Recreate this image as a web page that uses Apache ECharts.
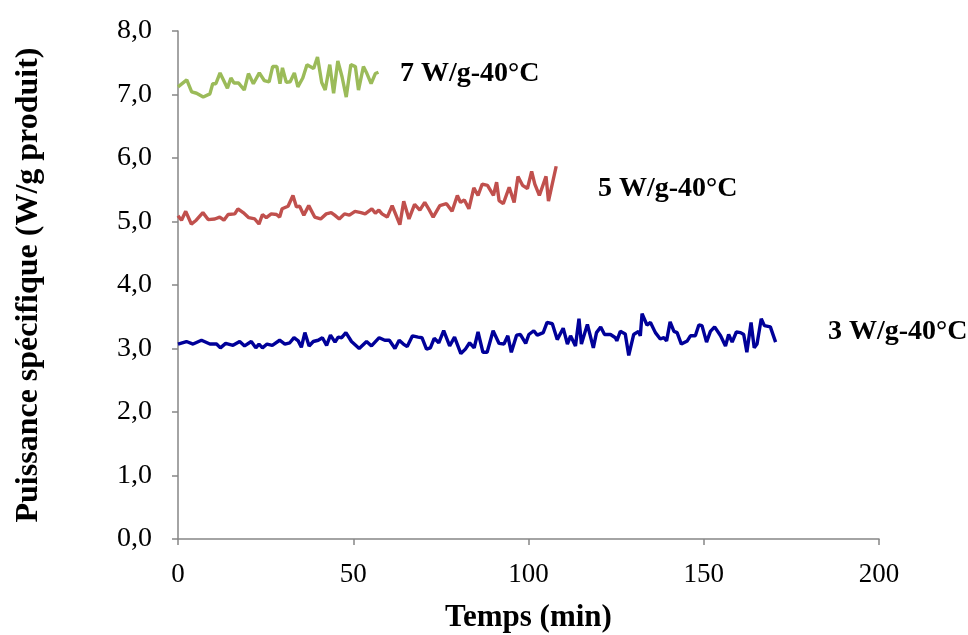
<!DOCTYPE html>
<html><head><meta charset="utf-8">
<script src="https://cdn.jsdelivr.net/npm/echarts@6/dist/echarts.min.js"></script>
<style>html,body{margin:0;padding:0;background:#fff}#c{width:968px;height:635px}</style>
</head><body><div id="c"></div>
<script>
const greenT = [0,2.5,3.9,5.3,7.2,9.1,9.9,10.8,12,14.1,15.1,16,17.3,18.9,20.1,21.5,23.2,24.6,26,27,28.2,29.1,29.8,30.9,32,33.2,34.2,35.6,36.8,38.7,39.8,41,42,43.3,44.4,45.6,46.8,48,49.3,50.6,51.5,52.9,53.9,55.1,56.3,57.2];
const greenV = [7.12,7.23,7.04,7.02,6.96,7.01,7.17,7.17,7.34,7.10,7.26,7.18,7.18,7.07,7.33,7.17,7.34,7.22,7.20,7.44,7.44,7.17,7.42,7.19,7.20,7.34,7.12,7.26,7.47,7.41,7.59,7.19,7.07,7.47,7.02,7.53,7.28,6.96,7.47,7.44,7.07,7.44,7.33,7.17,7.33,7.35];

const redT = [0,1,2.2,3.8,5.2,7.1,8.6,10.5,11.9,13.1,14.3,16.2,17.1,18.6,20.2,21.9,23.1,24.1,25.2,26.6,28.1,29,29.7,31.4,32.8,33.8,34.7,35.9,37.3,39,40.7,42.3,43.7,44.7,46,47.5,48.9,50.5,52.2,53.4,55.3,56.3,57.3,58.2,59.7,61.1,63.3,64.4,65.9,67.5,69,70.4,71.6,72.8,74.7,76.6,78.2,79.7,80.6,81.7,83,84.4,85.6,86.8,88.3,90,90.9,91.6,92.8,94.5,95.9,97,98.3,99.7,100.9,101.8,103.1,105,105.7,107.9];
const redV = [5.09,5.02,5.16,4.96,5.02,5.14,5.03,5.04,5.07,5.02,5.11,5.12,5.20,5.14,5.06,5.04,4.96,5.11,5.06,5.12,5.11,5.07,5.20,5.24,5.41,5.23,5.24,5.10,5.25,5.07,5.04,5.12,5.14,5.10,5.04,5.12,5.10,5.16,5.14,5.12,5.20,5.13,5.18,5.12,5.07,5.25,4.95,5.32,5.04,5.27,5.18,5.30,5.19,5.07,5.25,5.28,5.16,5.41,5.30,5.34,5.20,5.53,5.41,5.59,5.57,5.41,5.62,5.33,5.28,5.54,5.30,5.71,5.57,5.52,5.79,5.59,5.41,5.71,5.32,5.87];

const blueT = [0,2.4,4.3,6.7,9.1,11,12.1,13.6,15.7,17.6,19,20.9,22.2,23.1,24.1,25.4,26.9,29,30.5,31.9,33.1,34.3,35.2,36.2,37.4,38.6,40,41.2,42.4,43.5,44.8,45.7,46.7,47.9,49.5,51.7,53.8,55.2,57.4,59,60.3,61.9,63.1,64.3,65.4,66.9,68.5,69.6,70.9,72,73.1,74.4,75.8,77.5,78.9,80.7,82,83.2,84.5,85.6,87,88.2,89.9,91.6,93,94.1,95.1,96.6,97.7,99.2,100.1,101.5,102.5,104.2,105.3,106.8,108.2,109.9,111.1,112,113.4,114.4,115.1,116.8,118.5,119.4,120.6,121.7,123.4,124.8,125.2,126.2,127.6,128.6,130,131.4,131.9,132.4,133.8,134.8,136.2,137.6,138.6,139.4,140.4,141.5,142.4,143.6,145.3,146.2,147.6,148.6,149.5,150.8,151.9,153.1,154.8,156.2,157.1,158.1,159.3,160.5,161.4,162.3,163.5,164.4,165.2,166.4,167.3,169,170.5];
const blueV = [3.07,3.11,3.07,3.13,3.07,3.07,3.01,3.08,3.05,3.11,3.04,3.11,3.01,3.07,3.01,3.07,3.05,3.13,3.07,3.09,3.17,3.12,3.02,3.25,3.04,3.11,3.13,3.17,3.05,3.21,3.10,3.18,3.17,3.25,3.11,3.00,3.11,3.04,3.17,3.13,3.13,3.00,3.13,3.07,3.03,3.20,3.18,3.17,2.99,3.01,3.16,3.09,3.28,3.04,3.18,2.92,2.99,3.09,3.01,3.26,2.94,2.94,3.28,3.08,3.07,3.20,2.94,3.21,3.22,3.08,3.22,3.28,3.21,3.25,3.41,3.39,3.14,3.32,3.07,3.20,3.04,3.47,3.07,3.38,3.01,3.25,3.34,3.22,3.22,3.17,3.12,3.27,3.23,2.89,3.22,3.27,3.20,3.55,3.37,3.41,3.25,3.15,3.17,3.12,3.42,3.27,3.25,3.07,3.12,3.20,3.20,3.37,3.36,3.10,3.27,3.34,3.20,3.04,3.22,3.10,3.26,3.25,3.22,2.94,3.41,3.01,3.07,3.47,3.36,3.34,3.10];

const seriesNames = ['7 W/g-40°C','5 W/g-40°C','3 W/g-40°C'];
const xTitle = 'Temps (min)';
const yTitle = 'Puissance spécifique (W/g produit)';

const zip = (t, v) => t.map((x, i) => [x, v[i]]);
const serif = '"Liberation Serif", "DejaVu Serif", serif';
const axisCol = '#868686';

const chart = echarts.init(document.getElementById('c'), null, {renderer: 'canvas'});
chart.setOption({
  animation: false,
  backgroundColor: '#fff',
  grid: {left: 178, right: 89, top: 31, bottom: 96, containLabel: false, outerBoundsMode: 'none'},
  xAxis: {
    type: 'value', min: 0, max: 200, interval: 50,
    name: xTitle, nameLocation: 'middle', nameGap: 63,
    nameTextStyle: {fontFamily: serif, fontWeight: 'bold', fontSize: 31, color: '#000'},
    axisLine: {show: true, lineStyle: {color: axisCol, width: 1.5}},
    axisTick: {show: true, length: 6, lineStyle: {color: axisCol, width: 1.5}},
    splitLine: {show: false},
    axisLabel: {fontFamily: serif, fontSize: 27, color: '#000', margin: 22}
  },
  yAxis: {
    type: 'value', min: 0, max: 8, interval: 1,
    name: yTitle, nameLocation: 'middle', nameGap: 133,
    nameTextStyle: {fontFamily: serif, fontWeight: 'bold', fontSize: 32, color: '#000'},
    axisLine: {show: true, lineStyle: {color: axisCol, width: 1.5}},
    axisTick: {show: true, length: 6, lineStyle: {color: axisCol, width: 1.5}},
    splitLine: {show: false},
    axisLabel: {fontFamily: serif, fontSize: 28, color: '#000', margin: 26,
      formatter: v => v.toFixed(1).replace('.', ',')}
  },
  series: [
    {name: seriesNames[0], type: 'line', data: zip(greenT, greenV), showSymbol: false, lineStyle: {color: '#9BBB59', width: 3.4}, itemStyle: {color: '#9BBB59'}},
    {name: seriesNames[1], type: 'line', data: zip(redT, redV), showSymbol: false, lineStyle: {color: '#C0504D', width: 3.4}, itemStyle: {color: '#C0504D'}},
    {name: seriesNames[2], type: 'line', data: zip(blueT, blueV), showSymbol: false, lineStyle: {color: '#000099', width: 3.4}, itemStyle: {color: '#000099'}}
  ],
  graphic: [
    {type: 'text', left: 400, top: 60, style: {text: seriesNames[0], font: 'bold 28px ' + serif, fill: '#000'}},
    {type: 'text', left: 598, top: 175, style: {text: seriesNames[1], font: 'bold 28px ' + serif, fill: '#000'}},
    {type: 'text', left: 828, top: 318, style: {text: seriesNames[2], font: 'bold 28px ' + serif, fill: '#000'}}
  ]
});
</script></body></html>
